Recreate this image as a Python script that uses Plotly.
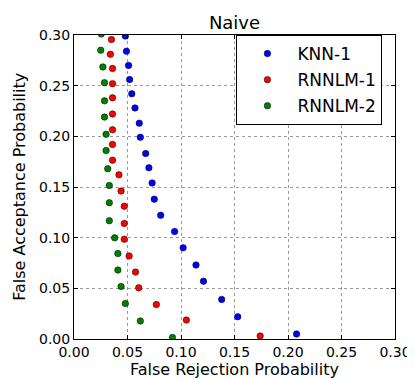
import plotly.graph_objects as go

# ---- data ----
knn1_x = [0.048, 0.049, 0.051, 0.052, 0.054, 0.057, 0.061, 0.062, 0.067, 0.070,
          0.073, 0.075, 0.081, 0.094, 0.102, 0.114, 0.121, 0.138, 0.153, 0.208]
knn1_y = [0.299, 0.284, 0.270, 0.256, 0.242, 0.228, 0.213, 0.199, 0.183, 0.169,
          0.154, 0.138, 0.122, 0.106, 0.090, 0.073, 0.057, 0.039, 0.022, 0.005]

rnn1_x = [0.035, 0.034, 0.036, 0.036, 0.036, 0.036, 0.036, 0.036, 0.036, 0.042,
          0.044, 0.047, 0.047, 0.047, 0.0515, 0.0575, 0.0605, 0.077, 0.105, 0.174]
rnn1_y = [0.2955, 0.281, 0.267, 0.252, 0.238, 0.222, 0.2065, 0.192, 0.1765, 0.162,
          0.146, 0.131, 0.114, 0.0985, 0.082, 0.066, 0.0505, 0.034, 0.0187, 0.003]

rnn2_x = [0.0255, 0.025, 0.027, 0.0285, 0.0285, 0.0285, 0.030, 0.030, 0.0315, 0.033,
          0.033, 0.033, 0.038, 0.041, 0.041, 0.044, 0.048, 0.062, 0.092]
rnn2_y = [0.301, 0.285, 0.2685, 0.253, 0.235, 0.219, 0.202, 0.186, 0.168, 0.1515,
          0.1345, 0.1167, 0.0998, 0.0843, 0.068, 0.0518, 0.035, 0.0178, 0.0015]

series_names = ["KNN-1", "RNNLM-1", "RNNLM-2"]
series_colors = ["#0000ff", "#ff0000", "#008000"]

x_ticks = [0.00, 0.05, 0.10, 0.15, 0.20, 0.25, 0.30]
y_ticks = [0.00, 0.05, 0.10, 0.15, 0.20, 0.25, 0.30]
tick_labels = ["0.00", "0.05", "0.10", "0.15", "0.20", "0.25", "0.30"]

FONT = "DejaVu Sans"

fig = go.Figure()
for i, (xs, ys) in enumerate([(knn1_x, knn1_y), (rnn1_x, rnn1_y), (rnn2_x, rnn2_y)]):
    fig.add_trace(go.Scatter(
        x=xs, y=ys, mode="markers", name=series_names[i],
        legendgroup=series_names[i],
        marker=dict(size=6.5, color=series_colors[i],
                    line=dict(color="black", width=0.5)),
    ))

axis_common = dict(
    showline=True, linecolor="black", linewidth=1, mirror="ticks",
    ticks="inside", ticklen=4, tickwidth=1, tickcolor="black",
    showgrid=True, gridcolor="#9a9a9a", griddash="dot", gridwidth=1,
    zeroline=False, tickfont=dict(family=FONT, size=14, color="black"),
)

fig.update_layout(
    width=415, height=379,
    margin=dict(l=66, r=17, t=27, b=38),
    paper_bgcolor="white", plot_bgcolor="white",
    font=dict(family=FONT, color="black"),
    title=dict(text="Naive", x=0.5, xref="paper", xanchor="center",
               y=0.962, yref="container", yanchor="middle",
               font=dict(family=FONT, size=18, color="black")),
    xaxis=dict(range=[0, 0.30], tickvals=x_ticks, ticktext=tick_labels,
               title=dict(text="False Rejection Probability",
                          font=dict(family=FONT, size=16), standoff=4),
               **axis_common),
    yaxis=dict(range=[0, 0.30], tickvals=y_ticks, ticktext=tick_labels,
               **axis_common),
    legend=dict(x=0.506, y=1.0, xanchor="left", yanchor="top",
                bgcolor="white", bordercolor="black", borderwidth=1,
                font=dict(family=FONT, size=17, color="black"),
                traceorder="grouped", tracegroupgap=1,
                itemwidth=50),
    showlegend=True,
    annotations=[dict(text="False Acceptance Probability", xref="paper",
                      yref="paper", x=-0.172, y=0.5, xanchor="center",
                      yanchor="middle", textangle=-90, showarrow=False,
                      font=dict(family=FONT, size=16, color="black"))],
)

fig.write_html("out.html")
